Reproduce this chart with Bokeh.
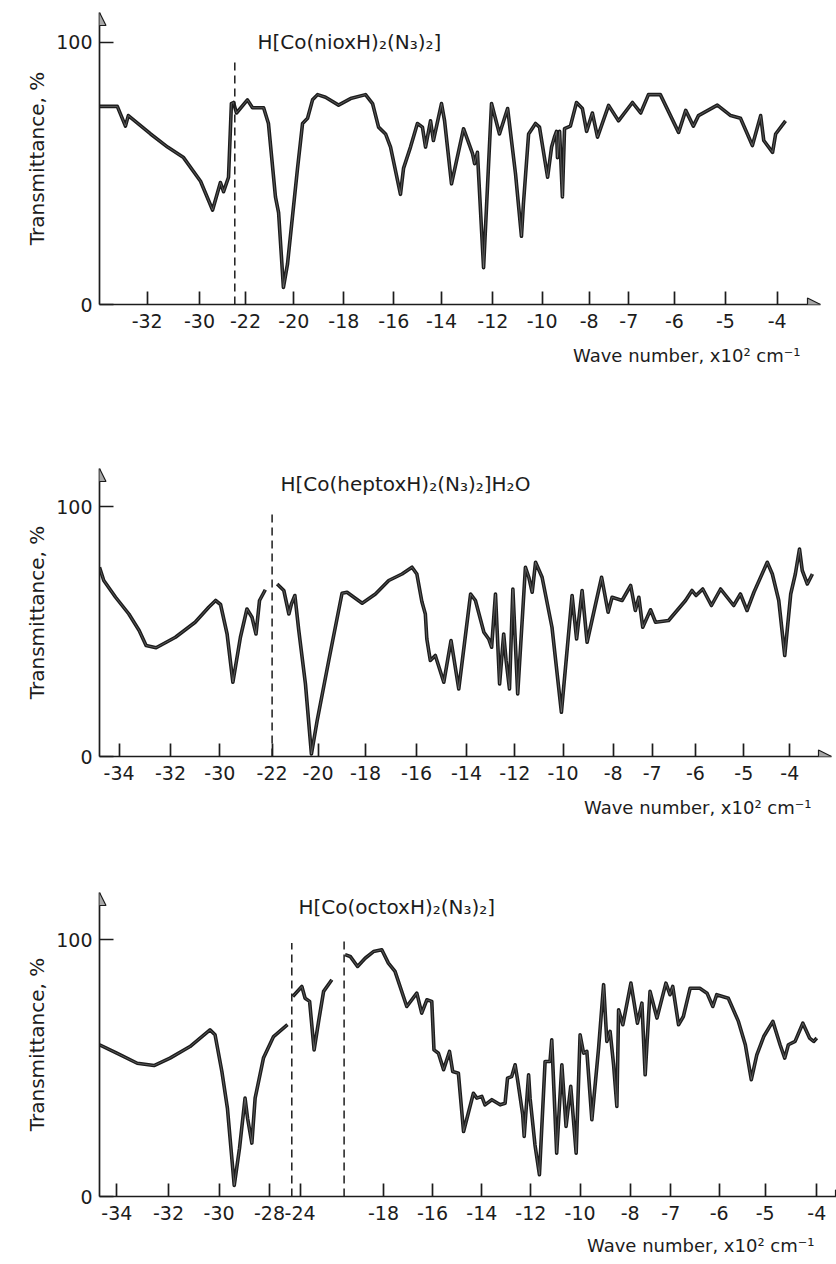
import numpy as np
from bokeh.plotting import figure
from bokeh.layouts import column
from bokeh.models import Range1d, FixedTicker, Label, Arrow, NormalHead, Title
from bokeh.embed import file_html
from bokeh.resources import INLINE

nan = float("nan")

# ---------------- data: wave number (x10^2 cm^-1) and transmittance (%) ----------------
P1_TITLE = "H[Co(nioxH)\u2082(N\u2083)\u2082]"
P1_WN = [-33.82, -33.14, -32.83, -32.72, -31.87, -31.22, -30.61, -29.96, -29.50, -29.20,
         -29.08, -28.89, -28.78, -28.70, -22.37, -21.92, -21.71, -21.25, -21.05, -20.76,
         -20.63, -20.43, -20.26, -19.85, -19.65, -19.45, -19.25, -19.05, -18.73, -18.21,
         -17.73, -17.13, -16.85, -16.61, -16.33, -16.13, -15.72, -15.59, -15.30, -15.01,
         -14.80, -14.67, -14.46, -14.34, -14.00, -13.88, -13.61, -13.14, -12.79, -12.71,
         -12.60, -12.36, -12.05, -11.73, -11.40, -11.08, -10.84, -10.76, -10.55, -10.27,
         -10.11, -9.77, -9.60, -9.48, -9.39, -9.35, -9.26, -9.14, -9.05, -8.80,
         -8.54, -8.29, -8.11, -7.92, -7.79, -7.51, -7.26, -6.92, -6.74, -6.57,
         -6.31, -5.92, -5.78, -5.63, -5.53, -5.16, -4.90, -4.71, -4.48, -4.32,
         -4.26, -4.09, -4.03, -3.84]
P1_T = [75.5, 75.5, 68, 72, 65, 60, 56, 47, 36, 46.5,
        43, 48.5, 76.6, 77, 73, 78, 75, 75, 69, 41,
        35, 6.5, 15.5, 52, 69, 71, 78, 80, 79, 76,
        78.5, 80, 76.6, 67.6, 65, 60, 42, 52, 60, 69,
        67.6, 60, 70, 62.5, 76.6, 70, 46, 67, 57.5, 53.7,
        58, 14, 76.6, 65, 74.7, 49.8, 26, 38.4, 65, 69,
        67.6, 48.5, 60, 63.8, 66, 56, 66, 41, 67, 68,
        77, 74.7, 66, 73, 63.8, 75.9, 70, 77, 73, 80,
        80, 65.6, 74, 68, 72, 76, 72, 71, 60.6, 72,
        62.5, 58, 65, 70]
P1_TICKS = [-32, -30, -22, -20, -18, -16, -14, -12, -10, -8, -7, -6, -5, -4]

P2_TITLE = "H[Co(heptoxH)\u2082(N\u2083)\u2082]H\u2082O"
P2_WN = [-34.81, -34.61, -34.14, -33.62, -33.22, -32.95, -32.56, -31.80, -31.00, -30.45,
         -30.17, -29.97, -29.71, -29.48, -29.18, -28.92, -28.72, -28.56, -28.42, -28.19,
         nan,
         -21.78, -21.49, -21.27, -21.16, -21.01, -20.84, -20.55, -20.29, -20.04, -19.55,
         -18.99, -18.78, -18.14, -17.61, -17.09, -16.57, -16.18, -15.99, -15.79, -15.65,
         -15.59, -15.45, -15.25, -14.91, -14.62, -14.31, -13.83, -13.63, -13.28, -13.08,
         -12.96, -12.80, -12.63, -12.46, -12.36, -12.22, -12.08, -11.88, -11.56, -11.42,
         -11.28, -11.14, -10.87, -10.46, -10.07, -9.64, -9.46, -9.24, -9.04, -8.70,
         -8.46, -8.20, -8.04, -7.77, -7.55, -7.43, -7.34, -7.24, -7.04, -6.92,
         -6.62, -6.23, -6.08, -5.99, -5.85, -5.67, -5.48, -5.21, -5.07, -4.93,
         -4.78, -4.49, -4.38, -4.24, -4.11, -3.98, -3.88, -3.79, -3.73, -3.62,
         -3.51]
P2_T = [75.7, 70.4, 63.7, 57, 50.4, 44.4, 43.5, 47.7, 53.7, 59.7,
        62.4, 60.8, 49, 29.7, 47.7, 59, 55.7, 49, 62.4, 66.7,
        nan,
        69, 66.4, 57, 61, 64.4, 50.4, 29, 1, 14.4, 38.4,
        65.3, 65.7, 61.3, 65, 70.4, 73, 75.7, 73, 62, 57,
        47, 38.4, 40.4, 29.7, 46.4, 27, 65, 62.4, 49.7, 47,
        43.7, 65, 29, 49, 38.4, 27, 67, 25, 75.7, 71.7,
        65.7, 77.7, 71.7, 51.7, 17.7, 64.4, 47, 66.4, 45.7, 61,
        71.7, 57.7, 63.7, 62.4, 68.4, 58.4, 63.7, 51.7, 58.7, 53.7,
        54.4, 62.4, 66.4, 64.4, 67, 60.4, 67, 60.4, 65, 58.4,
        65.7, 77.7, 73, 62.4, 40.4, 65, 73, 83, 74.4, 69,
        73]
P2_TICKS = [-34, -32, -30, -22, -20, -18, -16, -14, -12, -10, -8, -7, -6, -5, -4]

P3_TITLE = "H[Co(octoxH)\u2082(N\u2083)\u2082]"
P3_WN = [-34.68, -34.00, -33.21, -32.56, -31.94, -31.15, -30.36, -30.16, -29.89, -29.67,
         -29.40, -29.19, -28.97, -28.87, -28.70, -28.57, -28.24, -27.84, -27.29, nan,
         -24.29, -23.93, -23.80, -23.62, -23.44, -23.26, -23.06, -22.73, nan,
         -19.57, -19.36, -19.06, -18.75, -18.41, -18.07, -17.80, -17.53, -17.05, -16.64,
         -16.44, -16.23, -16.03, -15.94, -15.76, -15.55, -15.31, -15.18, -14.95, -14.74,
         -14.34, -14.20, -14.00, -13.87, -13.59, -13.25, -13.05, -12.95, -12.78, -12.64,
         -12.54, -12.33, -12.27, -12.09, -12.03, -11.83, -11.65, -11.42, -11.22, -11.15,
         -10.95, -10.74, -10.57, -10.38, -10.16, -10.00, -9.86, -9.73, -9.53, -9.26,
         -9.06, -8.93, -8.80, -8.66, -8.53, -8.46, -8.29, -7.98, -7.82, -7.71,
         -7.63, -7.51, -7.34, -7.12, -7.02, -6.96, -6.84, -6.74, -6.60, -6.40,
         -6.25, -6.13, -6.05, -5.80, -5.58, -5.43, -5.30, -5.18, -5.03, -4.85,
         -4.71, -4.62, -4.55, -4.42, -4.27, -4.14, -4.06, -4.00]
P3_T = [59.1, 55.8, 51.9, 51, 53.9, 58.4, 64.9, 63, 48.7, 34.4,
        4.3, 18.8, 38.3, 30.5, 20.8, 38.3, 53.9, 62.3, 66.9, nan,
        77.9, 81.8, 77.2, 76, 57.1, 68.2, 79.9, 84.4, nan,
        94.2, 93.5, 89.6, 92.8, 95.4, 96.1, 90.9, 87.7, 74, 79.2,
        71.4, 76.6, 76, 57.1, 55.8, 49.4, 56.5, 48.7, 48, 25.3,
        40.2, 38.3, 39, 35.7, 37.7, 35.7, 36.3, 46.1, 46.7, 51.3,
        45.5, 31.8, 23.4, 47.4, 38.3, 20.1, 8.5, 52.6, 52.6, 61,
        16.9, 51.3, 27.3, 42.9, 16.9, 63, 55.8, 56.5, 29.9, 57.8,
        82.5, 60.4, 64.3, 51.3, 35.1, 72.7, 66.9, 83.1, 67.5, 75.3,
        47.4, 79.9, 69.5, 83.1, 78.6, 81.8, 66.9, 70.1, 81.1, 81.1,
        79.2, 74, 78.6, 77.2, 68.2, 59.1, 45.5, 55.2, 62.3, 68.2,
        59.1, 53.9, 59.1, 60.4, 67.5, 61.7, 60.4, 61.7]
P3_TICKS = [-34, -32, -30, -28, -24, -18, -16, -14, -12, -10, -8, -7, -6, -5, -4]

# scale breaks (wave number where a dashed line marks the change of scale) and their heights
P1_BREAKS, P1_BREAK_TOPS = [-22.44], [94]
P2_BREAKS, P2_BREAK_TOPS = [-22.0], [97]
P3_BREAKS, P3_BREAK_TOPS = [-24.33, -19.61], [98.7, 100]

# ---------------- layout: piecewise (broken) wave-number scale of each chart ----------------
P1_KNOT_WN = [-33.82, -32, -30, -28.65, -22.44, -22, -20, -18, -16, -14, -12, -10, -8, -7, -6, -5, -4, -3.17]
P1_KNOT_PX = [0, 47.7, 100, 135.3, 135.3, 146, 194.3, 244.3, 294.3, 342, 393.3, 442.7, 489.7, 529.3, 575, 626, 677.7, 721]
P2_KNOT_WN = [-34.78, -34, -32, -30, -27.92, -22, -20, -18, -16, -14, -12, -10, -8, -7, -6, -5, -4, -3.09]
P2_KNOT_PX = [0, 19.6, 71, 120.3, 172.6, 172.6, 218.6, 266, 317.1, 367, 415.3, 463.6, 513.6, 552.6, 596, 644.3, 690.3, 732.3]
P3_KNOT_WN = [-34.68, -34, -32, -30, -28, -27.12, -24.33, -24, -22.24, -19.61, -18, -16, -14, -12, -10, -8, -7, -6, -5, -4, -3.38]
P3_KNOT_PX = [0, 17.3, 69, 119.6, 170, 192.3, 192.3, 200.6, 244.6, 244.6, 284, 333, 382.3, 431.3, 480.6, 530.6, 571.3, 619.6, 665.6, 717.3, 749.3]

FONT = "DejaVu Sans"
INK = "#1c1c1c"
YLABEL = "Transmittance, %"
XLABEL = "Wave number, x10\u00b2 cm\u207b\u00b9"


def panel(wn, tr, kw, kp, ticks, breaks, btops, title, cfg):
    fw, fh, ytop = cfg["fw"], cfg["fh"], cfg["ytop"]
    p = figure(frame_width=fw, frame_height=fh,
               x_range=Range1d(0, fw), y_range=Range1d(0, ytop),
               min_border_left=cfg["bl"], min_border_right=cfg["br"],
               min_border_top=cfg["bt"], min_border_bottom=cfg["bb"],
               output_backend="svg", toolbar_location=None, tools="")
    p.outline_line_color = None
    p.grid.visible = False
    p.background_fill_color = "white"
    p.border_fill_color = "white"

    def pos(v):
        return np.interp(np.asarray(v, dtype=float), kw, kp)

    tick_pos = [round(float(x), 2) for x in pos(ticks)]
    xa = p.xaxis[0]
    xa.ticker = FixedTicker(ticks=tick_pos)
    xa.major_label_overrides = {tp: str(t) for tp, t in zip(tick_pos, ticks)}
    ya = p.yaxis[0]
    ya.ticker = FixedTicker(ticks=[0, 100])
    for ax in (xa, ya):
        ax.axis_line_color = INK
        ax.axis_line_width = 1.7
        ax.major_tick_line_color = INK
        ax.major_tick_line_width = 1.7
        ax.minor_tick_line_color = None
        ax.major_tick_out = 0
        ax.major_label_text_font = FONT
        ax.major_label_text_font_size = "19px"
        ax.major_label_text_color = INK
    xa.major_tick_in = 13
    xa.major_label_standoff = 9
    ya.major_tick_in = 14
    ya.major_label_standoff = 7

    x = pos(wn)
    p.line(x, tr, line_color=INK, line_width=3.6, line_join="round")
    p.line(x, tr, line_color="#9a9a9a", line_width=0.9, line_alpha=0.55)

    bx = pos(breaks)
    p.segment(x0=bx, y0=[0] * len(bx), x1=bx, y1=btops,
              line_color=INK, line_width=1.5, line_dash="8 5")

    head = dict(size=13, fill_color="#a8a8a8", line_color=INK, line_width=1.2)
    p.add_layout(Arrow(end=NormalHead(**head), x_start=fw - 3, y_start=0, x_end=fw, y_end=0, line_alpha=0))
    p.add_layout(Arrow(end=NormalHead(**head), x_start=0, y_start=ytop - 2, x_end=0, y_end=ytop, line_alpha=0))

    p.add_layout(Label(x=cfg["tx"], y=cfg["ty"], text=title, text_font=FONT, text_font_size="20px",
                       text_color=INK, text_baseline="middle"))
    p.add_layout(Title(text=XLABEL, align="right", offset=cfg["xoff"], standoff=cfg["xstand"],
                       text_font=FONT, text_font_size="18px", text_font_style="normal",
                       text_color=INK), "below")
    p.add_layout(Title(text=YLABEL, align="center", offset=cfg["yoff"],
                       text_font=FONT, text_font_size="20px", text_font_style="normal",
                       text_color=INK), "left")
    return p


p1 = panel(P1_WN, P1_T, P1_KNOT_WN, P1_KNOT_PX, P1_TICKS, P1_BREAKS, P1_BREAK_TOPS, P1_TITLE,
           dict(fw=721, fh=292, ytop=111.3, bl=99, br=16, bt=12, bb=96,
                tx=158, ty=100, xoff=20, xstand=25, yoff=27))
p2 = panel(P2_WN, P2_T, P2_KNOT_WN, P2_KNOT_PX, P2_TICKS, P2_BREAKS, P2_BREAK_TOPS, P2_TITLE,
           dict(fw=732, fh=288, ytop=115.2, bl=91, br=13, bt=68, bb=74,
                tx=181, ty=109.2, xoff=20, xstand=24, yoff=17))
p3 = panel(P3_WN, P3_T, P3_KNOT_WN, P3_KNOT_PX, P3_TICKS, P3_BREAKS, P3_BREAK_TOPS, P3_TITLE,
           dict(fw=749, fh=304, ytop=118.4, bl=83, br=4, bt=62, bb=66,
                tx=199, ty=112.6, xoff=34, xstand=21, yoff=13))

layout = column(p1, p2, p3, spacing=0)
open("out.html", "w").write(file_html(layout, INLINE))
